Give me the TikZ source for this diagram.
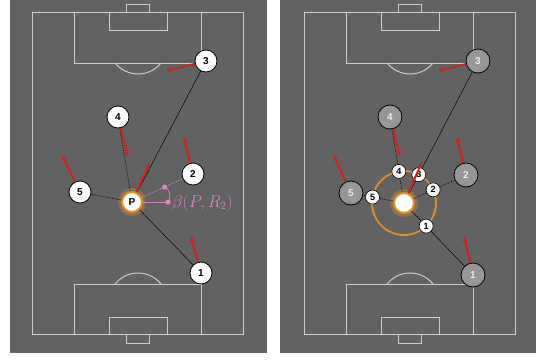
\documentclass[tikz,border=0pt]{standalone}
\usepackage{fontspec}
\setsansfont{Liberation Sans}
\usepackage{xcolor}
\usepackage{amsmath}
\usetikzlibrary{arrows.meta, positioning, calc}

\definecolor{pitchgray}{RGB}{98,98,98}
\definecolor{linegray}{RGB}{205,205,205}
\definecolor{movered}{RGB}{205,35,30}
\definecolor{anglepink}{RGB}{222,130,195}
\definecolor{ringorange}{RGB}{226,142,40}
\definecolor{ghostgray}{RGB}{150,150,150}

\begin{document}
\begin{tikzpicture}[
  x=1pt, y=-1pt,
  player/.style={circle, draw=black, line width=0.8pt, fill=white, minimum size=22pt, inner sep=0pt, font=\sffamily\bfseries\fontsize{10}{10}\selectfont},
  ghost/.style={player, fill=ghostgray, text=white!85!gray, minimum size=24pt},
  proj/.style={circle, draw=black, line width=0.6pt, fill=white, minimum size=14pt, inner sep=0pt, font=\sffamily\bfseries\fontsize{9}{9}\selectfont},
  ball/.style={circle, draw=ringorange, line width=2pt, fill=white, minimum size=20pt, inner sep=0pt, font=\sffamily\bfseries\fontsize{10}{10}\selectfont},
  glow/.style={draw=ringorange, line width=3pt, opacity=0.35},
  field/.style={draw=linegray, line width=1pt},
  move/.style={->, >={Stealth[length=6.5pt, width=5.5pt]}, draw=movered, line width=2pt},
  link/.style={draw=black, line width=0.5pt},
  dotlink/.style={draw=black, line width=0.7pt, densely dotted}
]
  \useasboundingbox (0,0) rectangle (536,360);
  \fill[white] (0,0) rectangle (536,360);
  \fill[pitchgray] (10,0) rectangle (267,353);
  \fill[pitchgray] (280,0) rectangle (536,353);

  % the two pitches
  \foreach \dx in {0,272} {
    \begin{scope}[xshift=\dx]
      \draw[field] (32,12) rectangle (243,334);
      \draw[field] (74,12) rectangle (201,63);
      \draw[field] (109,12) rectangle (167,30);
      \draw[field] (126,4) rectangle (149,12);
      \draw[field] (161,63) arc[start angle=38.8, end angle=141.2, radius=29.5];
      \draw[field] (74,284) rectangle (201,334);
      \draw[field] (109,317) rectangle (167,334);
      \draw[field] (126,334) rectangle (149,343);
      \draw[field] (161,284) arc[start angle=-38.8, end angle=-141.2, radius=29.5];
    \end{scope}
  }

  % left: player P and receivers
  \draw[glow] (132,202) circle (12.5);
  \node[ball] (P) at (132,202) {P};
  \node[player] (l3) at (206,61) {3};
  \node[player] (l4) at (118,117) {4};
  \node[player] (l2) at (193,174) {2};
  \node[player] (l5) at (80,192) {5};
  \node[player] (l1) at (201,273) {1};

  \draw[link] (P) -- (l3);
  \draw[dotlink] (P) -- (l4);
  \draw[dotlink] (P) -- (l5);
  \draw[link] (P) -- (l1);
  \draw[anglepink, line width=0.8pt, densely dotted] (P) -- (l2);

  % angle to receiver 2
  \coordinate (b1) at ($(P)!36pt!(l2)$);
  \coordinate (b2) at ($(P)+(36,0)$);
  \draw[anglepink, line width=0.8pt] (P) -- (b2);
  \draw[anglepink, line width=0.8pt] (b1) to[bend left=50] (b2);
  \fill[anglepink] (b1) circle (2.6);
  \fill[anglepink] (b2) circle (2.6);
  \node[anchor=west, text=anglepink, font=\fontsize{16}{18}\selectfont, inner sep=0pt] (beta) at (172,203) {$\beta(P,R_2)$};

  \coordinate (l3m) at (166,71);
  \coordinate (l4m) at (128,157);
  \coordinate (l2m) at (184,137);
  \coordinate (l5m) at (62,155);
  \coordinate (Pm) at (150,162);
  \coordinate (l1m) at (191,236);
  \draw[move] (l3) -- (l3m);
  \draw[move] (l4) -- (l4m);
  \draw[move] (l2) -- (l2m);
  \draw[move] (l5) -- (l5m);
  \draw[move] (P) -- (Pm);
  \draw[move] (l1) -- (l1m);

  % right: projections onto the ring
  \draw[ringorange, line width=1.8pt] (404,203) circle (32);
  \draw[glow] (404,203) circle (12.5);
  \node[ball] (c) at (404,203) {};
  \node[ghost] (r3) at (478,61) {3};
  \node[ghost] (r4) at (390,117) {4};
  \node[ghost] (r2) at (466,175) {2};
  \node[ghost] (r5) at (351,193) {5};
  \node[ghost] (r1) at (473,275) {1};

  \draw[link] (c) -- (r3);
  \draw[dotlink] (c) -- (r4);
  \draw[dotlink] (c) -- (r2);
  \draw[dotlink] (c) -- (r5);
  \draw[link] (c) -- (r1);

  \node[proj] (p4) at ($(c)!32pt!(r4)$) {4};
  \node[proj] (p3) at ($(c)!32pt!(r3)$) {3};
  \node[proj] (p2) at ($(c)!32pt!(r2)$) {2};
  \node[proj] (p5) at ($(c)!32pt!(r5)$) {5};
  \node[proj] (p1) at ($(c)!32pt!(r1)$) {1};

  \coordinate (r3m) at (438,71);
  \coordinate (r4m) at (400,157);
  \coordinate (r2m) at (457,137);
  \coordinate (r5m) at (333,154);
  \coordinate (cm) at (422,162);
  \coordinate (r1m) at (464,236);
  \draw[move] (r3) -- (r3m);
  \draw[move] (r4) -- (r4m);
  \draw[move] (r2) -- (r2m);
  \draw[move] (r5) -- (r5m);
  \draw[move] (c) -- (cm);
  \draw[move] (r1) -- (r1m);
\end{tikzpicture}
\end{document}
